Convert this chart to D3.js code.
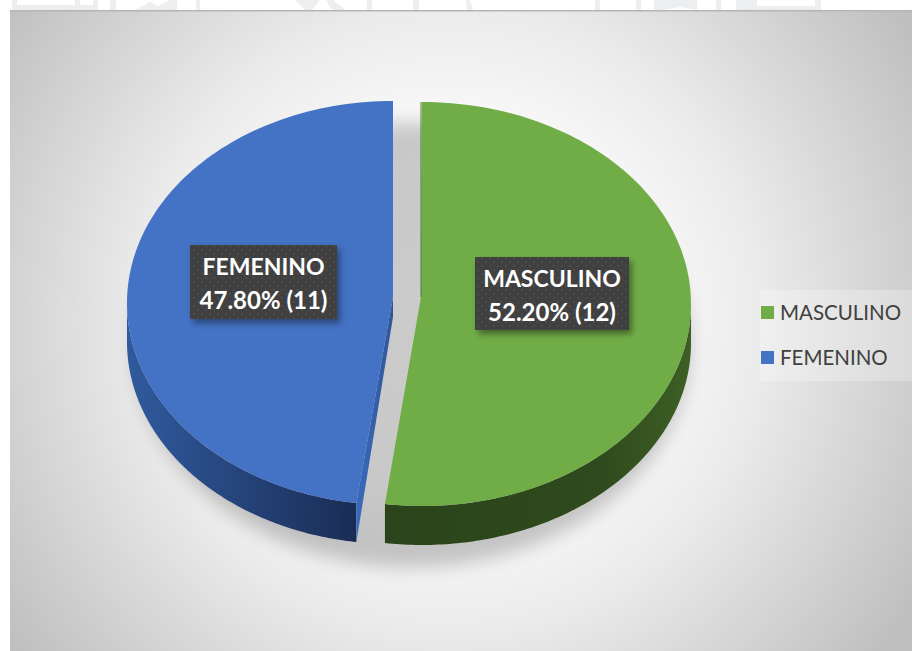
<!DOCTYPE html>
<html>
<head>
<meta charset="utf-8">
<title>Sexo</title>
<script src="https://d3js.org/d3.v7.min.js"></script>
<style>
html, body { margin: 0; padding: 0; background: #fff; }
svg { display: block; }
</style>
</head>
<body>
<svg id="chart" width="912" height="651"></svg>
<script>
var categories = ['MASCULINO', 'FEMENINO'];
var percents = [52.2, 47.8];
var counts = [12, 11];
var percentLabels = ['52.20%', '47.80%'];

var width = 912, height = 651;
var svg = d3.select('#chart');
var defs = svg.append('defs');

// faint scraps of the page behind the chart, above its top edge
var scraps = [
    [[12, 0], [17, 0], [17, 5], [75, 5], [75, 0], [80, 0], [80, 5], [93, 5], [93, 0], [98, 0], [98, 10], [12, 10]],
    [[110, 0], [116, 0], [116, 10], [110, 10]],
    [[135, 10], [150, 2], [158, 6], [170, 0], [177, 0], [177, 10]],
    [[196, 0], [200, 0], [200, 10], [196, 10]],
    [[295, 0], [320, 0], [312, 10], [305, 10]],
    [[326, 0], [333, 0], [345, 10], [332, 10]],
    [[367, 0], [372, 0], [372, 10], [367, 10]],
    [[413, 0], [419, 0], [419, 10], [413, 10]],
    [[466, 0], [470, 0], [473, 10], [467, 10]],
    [[595, 0], [600, 0], [600, 10], [595, 10]],
    [[636, 0], [641, 0], [641, 10], [636, 10]],
    [[654, 0], [697, 0], [697, 10], [680, 7], [662, 10], [654, 10]],
    [[716, 0], [721, 0], [721, 10], [716, 10]],
    [[736, 0], [757, 0], [757, 6], [815, 6], [815, 0], [821, 0], [821, 10], [742, 10], [736, 10]]
];
svg.selectAll('.scrap').data(scraps).enter().append('path').attr('class', 'scrap')
    .attr('d', function (d) { return d3.line()(d) + 'Z'; })
    .attr('fill', '#eceef0');

// background
var bg = defs.append('radialGradient').attr('id', 'bg')
    .attr('gradientUnits', 'userSpaceOnUse')
    .attr('cx', 450).attr('cy', 320).attr('r', 545);
bg.append('stop').attr('offset', '0').attr('stop-color', '#ffffff');
bg.append('stop').attr('offset', '0.3').attr('stop-color', '#fdfdfd');
bg.append('stop').attr('offset', '0.57').attr('stop-color', '#ebebeb');
bg.append('stop').attr('offset', '1').attr('stop-color', '#bfbfbf');

var wallBlue = defs.append('linearGradient').attr('id', 'wallBlue')
    .attr('gradientUnits', 'userSpaceOnUse')
    .attr('x1', 127).attr('x2', 356).attr('y1', 0).attr('y2', 0);
wallBlue.append('stop').attr('offset', '0').attr('stop-color', '#305a9e');
wallBlue.append('stop').attr('offset', '1').attr('stop-color', '#1a2d55');

var cutBlue = defs.append('linearGradient').attr('id', 'cutBlue')
    .attr('gradientUnits', 'userSpaceOnUse')
    .attr('x1', 0).attr('x2', 0).attr('y1', 300).attr('y2', 541);
cutBlue.append('stop').attr('offset', '0').attr('stop-color', '#2f5597');
cutBlue.append('stop').attr('offset', '1').attr('stop-color', '#3b6cc0');

var wallGreen = defs.append('linearGradient').attr('id', 'wallGreen')
    .attr('gradientUnits', 'userSpaceOnUse')
    .attr('x1', 386).attr('x2', 691).attr('y1', 0).attr('y2', 0);
wallGreen.append('stop').attr('offset', '0').attr('stop-color', '#2b441b');
wallGreen.append('stop').attr('offset', '0.7').attr('stop-color', '#2f4a1c');
wallGreen.append('stop').attr('offset', '1').attr('stop-color', '#3d5f25');

defs.append('filter').attr('id', 'soft')
    .attr('x', '-20%').attr('y', '-20%').attr('width', '140%').attr('height', '140%')
    .append('feGaussianBlur').attr('stdDeviation', 9);

var labelShadow = defs.append('filter').attr('id', 'labelShadow')
    .attr('x', '-20%').attr('y', '-20%').attr('width', '140%').attr('height', '140%');
labelShadow.append('feDropShadow').attr('dx', 3).attr('dy', 4).attr('stdDeviation', 3)
    .attr('flood-color', '#000').attr('flood-opacity', 0.4);

var dots = defs.append('pattern').attr('id', 'dots')
    .attr('patternUnits', 'userSpaceOnUse').attr('width', 8).attr('height', 8);
dots.append('rect').attr('width', 8).attr('height', 8).attr('fill', '#3f3f3f');
dots.append('rect').attr('x', 1).attr('y', 1).attr('width', 2).attr('height', 2).attr('fill', '#4c4c4c');
dots.append('rect').attr('x', 5).attr('y', 5).attr('width', 2).attr('height', 2).attr('fill', '#4c4c4c');

svg.append('rect').attr('x', 10).attr('y', 10).attr('width', width - 10).attr('height', height - 10)
    .attr('fill', 'url(#bg)');
svg.append('rect').attr('x', 10).attr('y', 10).attr('width', width - 10).attr('height', 1.5)
    .attr('fill', '#b5b5b5');

// legend band
svg.append('rect').attr('x', 760).attr('y', 290).attr('width', 152).attr('height', 91)
    .attr('fill', '#fff').attr('opacity', 0.25);

// one entry per slice: centre of the ellipse, apex of the wedge, colours
var geometry = {
    MASCULINO: { cx: 422, cy: 304, rx: 269, ry: 202, ax: 421, ay: 297, fill: '#70ad47', wall: 'url(#wallGreen)', box: [475, 257, 154, 73] },
    FEMENINO: { cx: 393, cy: 303, rx: 266, ry: 202, ax: 393, ay: 297, fill: '#4472c4', wall: 'url(#wallBlue)', box: [190, 245, 147, 74] }
};
var depth = 39;

var pie = d3.pie().sort(null).value(function (d) { return d; });
var slices = pie(percents);

function rimPoint(g, a, dy) {
    return [g.cx + g.rx * Math.sin(a), g.cy - g.ry * Math.cos(a) + dy];
}
function angles(a0, a1) {
    var n = 120;
    return d3.range(n + 1).map(function (i) { return a0 + (a1 - a0) * i / n; });
}
var line = d3.line();

// shadow under the pie
svg.append('ellipse').attr('cx', 412).attr('cy', 345).attr('rx', 278).attr('ry', 222)
    .attr('fill', '#000').attr('opacity', 0.2).attr('filter', 'url(#soft)');

slices.forEach(function (s, i) {
    var g = geometry[categories[i]];
    // outer wall: only the front half of the rim shows
    var a0 = Math.max(s.startAngle, Math.PI / 2);
    var a1 = Math.min(s.endAngle, 3 * Math.PI / 2);
    var top = angles(a0, a1).map(function (a) { return rimPoint(g, a, 0); });
    var bottom = angles(a1, a0).map(function (a) { return rimPoint(g, a, depth); });
    svg.append('path').attr('d', line(top.concat(bottom)) + 'Z').attr('fill', g.wall);

    // cut face of the blue slice faces the viewer
    if (categories[i] === 'FEMENINO') {
        var p = rimPoint(g, s.startAngle, 0);
        svg.append('path')
            .attr('d', line([[g.ax, g.ay], p, [p[0], p[1] + depth], [g.ax, g.ay + 20]]) + 'Z')
            .attr('fill', 'url(#cutBlue)');
    }

    var rim = angles(s.startAngle, s.endAngle).map(function (a) { return rimPoint(g, a, 0); });
    svg.append('path').attr('d', line([[g.ax, g.ay]].concat(rim)) + 'Z').attr('fill', g.fill);

    if (categories[i] === 'MASCULINO') {
        svg.append('path').attr('d', line([[g.ax, g.ay], [g.ax, g.cy - g.ry]]))
            .attr('stroke', '#4f7a32').attr('stroke-width', 1).attr('fill', 'none');
    }
});

// data labels
categories.forEach(function (c, i) {
    var b = geometry[c].box;
    var lab = svg.append('g');
    lab.append('rect').attr('x', b[0]).attr('y', b[1]).attr('width', b[2]).attr('height', b[3])
        .attr('fill', 'url(#dots)').attr('filter', 'url(#labelShadow)');
    lab.selectAll('text')
        .data([c, percentLabels[i] + ' (' + counts[i] + ')'])
        .enter().append('text')
        .attr('x', b[0] + b[2] / 2)
        .attr('y', function (d, j) { return b[1] + 30 + j * 34; })
        .attr('text-anchor', 'middle')
        .attr('font-family', 'Lato, sans-serif')
        .attr('font-weight', 700)
        .attr('font-size', function (d, j) { return j ? 24 : 23; })
        .attr('fill', '#fff')
        .text(function (d) { return d; });
});

// legend
var legendY = d3.scalePoint().domain(categories).range([312, 357]);
var legend = svg.selectAll('.legend').data(categories).enter().append('g').attr('class', 'legend');
legend.append('rect')
    .attr('x', 761)
    .attr('y', function (d) { return legendY(d) - 6; })
    .attr('width', 13).attr('height', 13)
    .attr('fill', function (d) { return geometry[d].fill; });
legend.append('text')
    .attr('x', 780)
    .attr('y', function (d) { return legendY(d) + 7.5; })
    .attr('font-family', 'Lato, sans-serif')
    .attr('font-size', 20.5)
    .attr('fill', '#404040')
    .text(function (d) { return d; });
</script>
</body>
</html>
